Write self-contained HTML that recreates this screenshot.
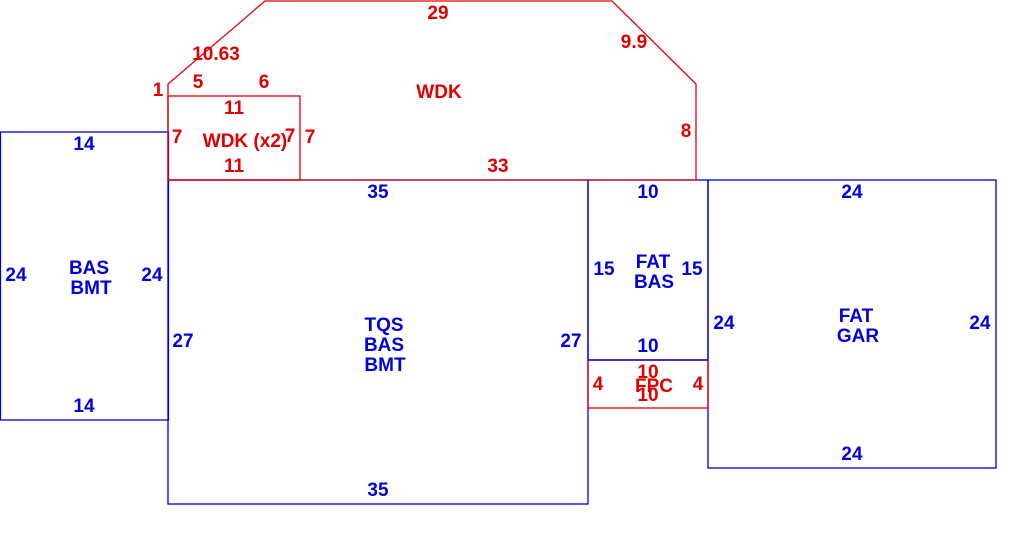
<!DOCTYPE html>
<html><head><style>
body{margin:0;background:#fff;width:1010px;height:547px;overflow:hidden}
text{font-family:"Liberation Sans",sans-serif;font-weight:bold;font-size:19px;text-anchor:middle}
.r{fill:#e00000}.b{fill:#0000dd}
</style></head><body>
<svg width="1010" height="547" xmlns="http://www.w3.org/2000/svg">
<g fill="none" stroke-width="1.3">
<rect x="0.5" y="132" width="168" height="288" stroke="#0000dd"/>
<rect x="168" y="180" width="420" height="324" stroke="#0000dd"/>
<rect x="588" y="180" width="120" height="180" stroke="#0000dd"/>
<rect x="708" y="180" width="288" height="288" stroke="#0000dd"/>
<rect x="588" y="360" width="120" height="48" stroke="#e00000"/>
<line x1="588" y1="360" x2="708" y2="360" stroke="#0000dd"/>
<polyline points="168,180 168,84 265,1 612,1 696,84 696,180 168,180" stroke="#e00000"/>
<rect x="168" y="96" width="132" height="84" stroke="#e00000"/>
</g>
<g class="r">
<text x="438" y="19">29</text>
<text x="216" y="60">10.63</text>
<text x="634" y="48">9.9</text>
<text x="158" y="96">1</text>
<text x="198" y="88">5</text>
<text x="264" y="88">6</text>
<text x="439" y="98">WDK</text>
<text x="234" y="114">11</text>
<text x="177" y="143">7</text>
<text x="245" y="147">WDK (x2)</text>
<text x="290" y="142">7</text>
<text x="310" y="143">7</text>
<text x="234" y="172">11</text>
<text x="686" y="137">8</text>
<text x="498" y="172">33</text>
<text x="598" y="390">4</text>
<text x="648" y="378">10</text>
<text x="654" y="392">FPC</text>
<text x="648" y="401">10</text>
<text x="698" y="390">4</text>
</g>
<g class="b">
<text x="84" y="150">14</text>
<text x="16" y="281">24</text>
<text x="89" y="274">BAS</text>
<text x="91" y="294">BMT</text>
<text x="152" y="281">24</text>
<text x="84" y="412">14</text>
<text x="378" y="198">35</text>
<text x="183" y="347">27</text>
<text x="384" y="331">TQS</text>
<text x="384" y="351">BAS</text>
<text x="385" y="371">BMT</text>
<text x="571" y="347">27</text>
<text x="378" y="496">35</text>
<text x="648" y="198">10</text>
<text x="604" y="275">15</text>
<text x="653" y="268">FAT</text>
<text x="654" y="288">BAS</text>
<text x="692" y="275">15</text>
<text x="648" y="352">10</text>
<text x="852" y="198">24</text>
<text x="724" y="329">24</text>
<text x="856" y="322">FAT</text>
<text x="858" y="342">GAR</text>
<text x="980" y="329">24</text>
<text x="852" y="460">24</text>
</g>
</svg>
</body></html>
